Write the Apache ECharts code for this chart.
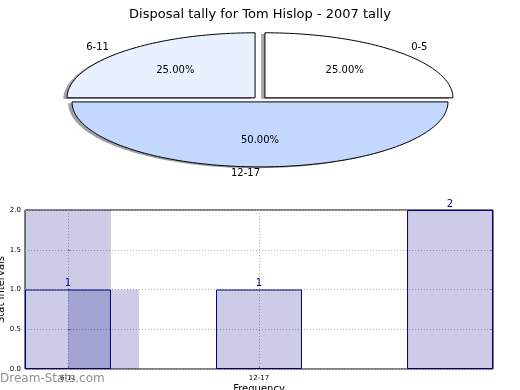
<!DOCTYPE html>
<html>
<head>
<meta charset="utf-8">
<script src="https://cdn.jsdelivr.net/npm/echarts@6/dist/echarts.min.js"></script>
<style>
html,body{margin:0;padding:0;background:#fff;}
#chart{width:520px;height:390px;}
</style>
</head>
<body>
<div id="chart"></div>
<script>
// ---- data ----
const chartTitle = 'Disposal tally for Tom Hislop - 2007 tally';
const pieLabels = ['0-5', '6-11', '12-17'];
const pieValues = [1, 1, 2];
const barCategories = ['6-11', '12-17', '0-5'];
const barValues = [1, 1, 2];
const xTickLabels = ['6-11', '12-17'];
const yTicks = [0, 0.5, 1.0, 1.5, 2.0];
// extra translucent blocks seen in the plot: [xStart, xEnd, yBottom, yTop] in axis units
const overlayBlocks = [[-0.225, 0.225, 1, 2], [0, 0.372, 0, 1]];

// ---- styles ----
const FONT = '"DejaVu Sans", "Liberation Sans", sans-serif';
const pieColors = ['#ffffff', '#e9f0ff', '#c3d7ff'];
const NAVY = '#000080';
const NAVY_FILL = 'rgba(0,0,128,0.2)';

const cx = 260, cy = 99.5, rx = 188, ry = 65, explode = 0.037;
const total = pieValues.reduce((a, b) => a + b, 0);

function shadowColor(hex) {
  const r = parseInt(hex.substr(1, 2), 16), g = parseInt(hex.substr(3, 2), 16), b = parseInt(hex.substr(5, 2), 16);
  return 'rgba(' + Math.round(r * 0.3) + ',' + Math.round(g * 0.3) + ',' + Math.round(b * 0.3) + ',0.5)';
}

function pieItem(params, api) {
  const i = params.dataIndex;
  let start = 0;
  for (let k = 0; k < i; k++) start += pieValues[k];
  const t0 = start / total * 2 * Math.PI;
  const t1 = (start + pieValues[i]) / total * 2 * Math.PI;
  const tm = (t0 + t1) / 2;
  const ox = cx + explode * rx * Math.cos(tm);
  const oy = cy - explode * ry * Math.sin(tm);
  const pts = [[ox, oy]];
  const n = Math.max(10, Math.ceil((t1 - t0) / (Math.PI / 120)));
  for (let j = 0; j <= n; j++) {
    const t = t0 + (t1 - t0) * j / n;
    pts.push([ox + rx * Math.cos(t), oy - ry * Math.sin(t)]);
  }
  const sh = pts.map(p => [p[0] - 0.02 * rx, p[1] + 0.02 * ry]);
  const c = Math.cos(tm), s = Math.sin(tm);
  const lx = ox + 1.1 * rx * c, ly = oy - 1.1 * ry * s;
  const px = ox + 0.6 * rx * c, py = oy - 0.6 * ry * s;
  const pct = (pieValues[i] / total * 100).toFixed(2) + '%';
  return {
    type: 'group',
    children: [
      { type: 'polygon', z2: 1, shape: { points: sh }, style: { fill: shadowColor(pieColors[i]), stroke: null } },
      { type: 'polygon', z2: 10, shape: { points: pts }, style: { fill: pieColors[i], stroke: '#000', lineWidth: 1 } },
      { type: 'text', z2: 20, style: { text: pieLabels[i], x: lx, y: ly, align: (lx - ox) > 0 ? 'left' : 'right', verticalAlign: 'middle', fill: '#000', font: '10px ' + FONT } },
      { type: 'text', z2: 20, style: { text: pct, x: px, y: py, align: 'center', verticalAlign: 'middle', fill: '#000', font: '10px ' + FONT } }
    ]
  };
}

function overlayItem(params, api) {
  const d = overlayBlocks[params.dataIndex];
  const p0 = api.coord([d[0], d[3]]);
  const p1 = api.coord([d[1], d[2]]);
  return {
    type: 'rect',
    shape: { x: p0[0], y: p0[1], width: p1[0] - p0[0], height: p1[1] - p0[1] },
    style: { fill: NAVY_FILL, stroke: null }
  };
}

const chart = echarts.init(document.getElementById('chart'), null, { renderer: 'canvas' });
const gridLine = { show: true, lineStyle: { type: [1, 2], color: '#b4b4b4', width: 1 } };
const option = {
  animation: false,
  backgroundColor: '#fff',
  title: {
    text: chartTitle, left: 'center', top: 3,
    textStyle: { fontFamily: FONT, fontSize: 13, fontWeight: 'normal', color: '#000' }
  },
  grid: { left: 25, right: 27, top: 210, bottom: 21, containLabel: false, outerBoundsMode: 'none', show: true, borderColor: '#000', borderWidth: 1, backgroundColor: 'transparent' },
  xAxis: {
    type: 'value', min: -0.225, max: 2.225,
    axisLine: { show: false },
    axisTick: { show: true, inside: true, length: 3, customValues: [0, 1], lineStyle: { color: '#999' } },
    axisLabel: { customValues: [0, 1], formatter: v => xTickLabels[Math.round(v)], fontSize: 7, margin: 6, color: '#000', fontFamily: FONT },
    splitLine: gridLine,
    name: 'Frequency', nameLocation: 'middle', nameGap: 15, nameMoveOverlap: false,
    nameTextStyle: { fontSize: 10, fontFamily: FONT, color: '#000' }
  },
  yAxis: [{
    type: 'value', min: 0, max: 2, interval: 0.5,
    axisLine: { show: false },
    axisTick: { show: true, inside: true, length: 3, lineStyle: { color: '#999' } },
    axisLabel: { formatter: v => v.toFixed(1), fontSize: 7, margin: 4, color: '#000', fontFamily: FONT },
    splitLine: gridLine,
    name: 'Stat Intervals', nameLocation: 'middle', nameRotate: 90, nameGap: 19, nameMoveOverlap: false,
    nameTextStyle: { fontSize: 10, fontFamily: FONT, color: '#000' }
  }, {
    type: 'value', min: 0, max: 2, interval: 0.5, position: 'right',
    axisLine: { show: false },
    axisTick: { show: true, inside: true, length: 3, lineStyle: { color: '#999' } },
    axisLabel: { show: false },
    splitLine: { show: false }
  }],
  graphic: [{
    type: 'text', left: 0, top: 373, z: 100,
    style: { text: 'Dream-Stats.com', fill: '#8f8f8f', font: '12px ' + FONT }
  }],
  series: [
    {
      type: 'custom', coordinateSystem: 'none', renderItem: pieItem,
      data: pieValues.map(v => [v]), silent: true
    },
    {
      type: 'bar', name: 'tally', barWidth: '45%',
      data: barValues.map((v, i) => [i, v]),
      itemStyle: { color: NAVY_FILL, borderColor: NAVY, borderWidth: 1 },
      label: { show: true, position: 'top', distance: 1, color: NAVY, fontSize: 10, fontFamily: FONT, formatter: p => p.value[1] }
    },
    {
      type: 'custom', renderItem: overlayItem,
      data: overlayBlocks.map((d, i) => [d[0], d[3]]), silent: true
    }
  ]
};
chart.setOption(option);
</script>
</body>
</html>
